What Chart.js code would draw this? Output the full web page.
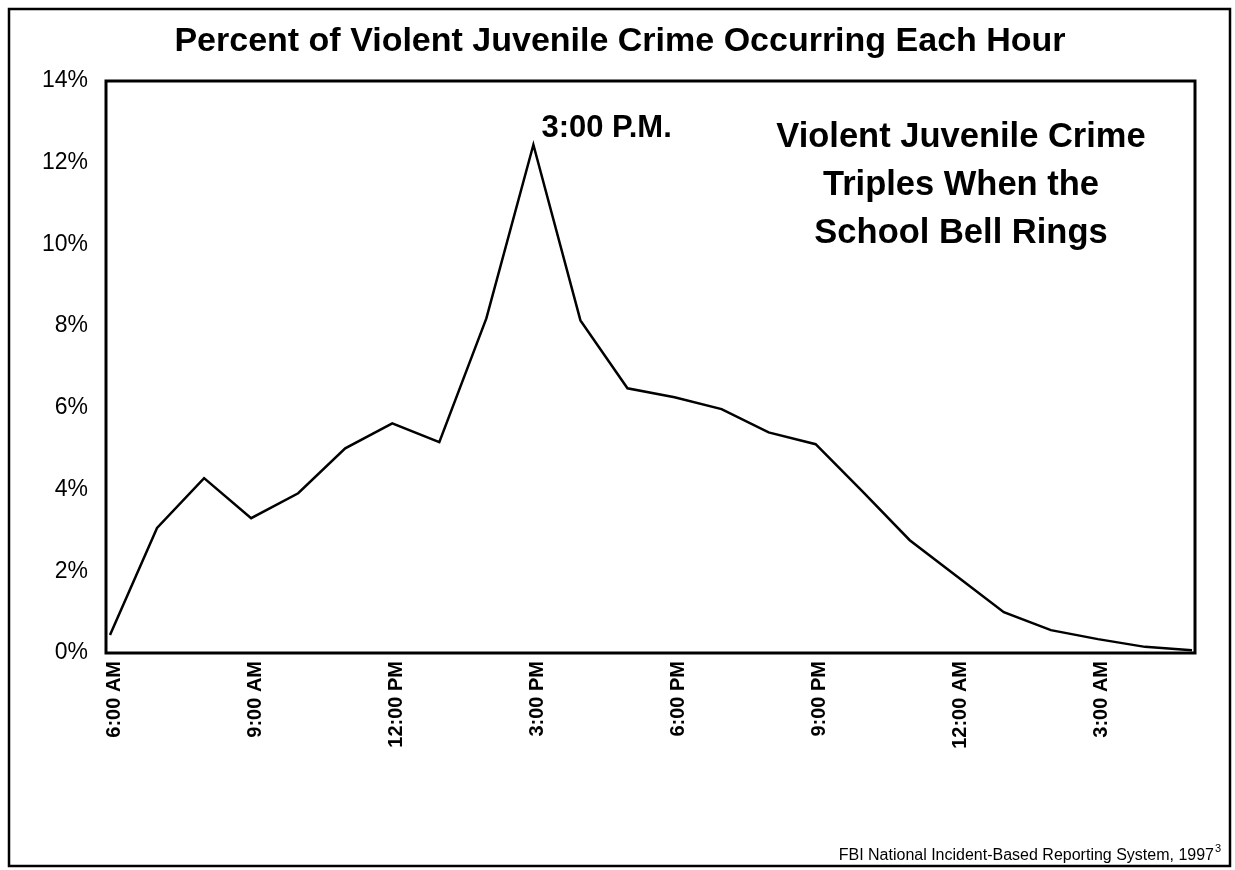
<!DOCTYPE html>
<html>
<head>
<meta charset="utf-8">
<title>Percent of Violent Juvenile Crime Occurring Each Hour</title>
<script src="https://cdn.jsdelivr.net/npm/chart.js@4.4.1/dist/chart.umd.min.js"></script>
<style>
  html, body { margin: 0; padding: 0; background: #fff; }
  canvas { display: block; }
</style>
</head>
<body>
<canvas id="crimeChart" width="1235" height="870"></canvas>
<script>
// hourly buckets, 6 AM through 5 AM the next morning
const hours = [
  "6:00 AM", "7:00 AM", "8:00 AM", "9:00 AM", "10:00 AM", "11:00 AM",
  "12:00 PM", "1:00 PM", "2:00 PM", "3:00 PM", "4:00 PM", "5:00 PM",
  "6:00 PM", "7:00 PM", "8:00 PM", "9:00 PM", "10:00 PM", "11:00 PM",
  "12:00 AM", "1:00 AM", "2:00 AM", "3:00 AM", "4:00 AM", "5:00 AM"
];
// percent of violent juvenile crime in each hour
const percentByHour = [
  0.44, 3.06, 4.28, 3.30, 3.91, 5.01,
  5.62, 5.16, 8.19, 12.44, 8.14, 6.48,
  6.26, 5.97, 5.40, 5.11, 3.95, 2.76,
  1.88, 1.00, 0.56, 0.34, 0.15, 0.07
];
const yTicks = [0, 2, 4, 6, 8, 10, 12, 14];
const labelEvery = 3;

const titleText = "Percent of Violent Juvenile Crime Occurring Each Hour";
const peakText = "3:00 P.M.";
const calloutLines = ["Violent Juvenile Crime", "Triples When the", "School Bell Rings"];
const sourceText = "FBI National Incident-Based Reporting System, 1997";

const FONT = '"Liberation Sans", Arial, Helvetica, sans-serif';

const decorPlugin = {
  id: "decor",
  afterDraw(chart) {
    const c = chart.ctx;
    const a = chart.chartArea;
    c.save();

    // outer page frame
    c.strokeStyle = "#000";
    c.lineWidth = 2.5;
    c.strokeRect(9, 9, 1221, 857);

    // plot frame (a few px outside the first/last point, as in the original)
    c.lineWidth = 3;
    c.strokeRect(a.left - 4, a.top, a.right - a.left + 7, a.bottom - a.top);

    c.fillStyle = "#000";
    c.textBaseline = "middle";

    // title
    c.textAlign = "center";
    c.font = "bold 34px " + FONT;
    c.fillText(titleText, 620, 42);

    // peak label, placed off the 3 PM point
    const xs = chart.scales.x;
    const peakIdx = percentByHour.indexOf(Math.max(...percentByHour));
    const px = xs.getPixelForValue(peakIdx);
    c.textAlign = "left";
    c.font = "bold 31px " + FONT;
    c.fillText(peakText, px + 8, 128);

    // callout
    c.textAlign = "center";
    c.font = "bold 34.5px " + FONT;
    calloutLines.forEach((line, i) => c.fillText(line, 961, 137 + i * 48));

    // source note
    c.textAlign = "right";
    c.font = "16px " + FONT;
    const supW = 8;
    c.fillText(sourceText, 1222 - supW, 856);
    c.font = "11px " + FONT;
    c.textAlign = "left";
    c.fillText("3", 1222 - supW + 1, 849);

    c.restore();
  }
};

new Chart(document.getElementById("crimeChart"), {
  type: "line",
  data: {
    labels: hours,
    datasets: [
      {
        label: "Percent",
        data: percentByHour,
        borderColor: "#000",
        borderWidth: 2.5,
        pointRadius: 0,
        tension: 0,
        fill: false
      }
    ]
  },
  options: {
    responsive: false,
    animation: false,
    layout: { padding: { top: 81, right: 43, left: 0, bottom: 0 } },
    plugins: {
      legend: { display: false },
      tooltip: { enabled: false },
      title: { display: false }
    },
    scales: {
      x: {
        type: "category",
        offset: false,
        grid: { display: false, drawTicks: false },
        border: { display: false },
        afterFit: (scale) => { scale.height = 217; },
        ticks: {
          autoSkip: false,
          maxRotation: 90,
          minRotation: 90,
          padding: 8,
          labelOffset: 4,
          color: "#000",
          font: { family: FONT, size: 20, weight: "bold" },
          callback: (val, i) => (i % labelEvery === 0 ? hours[i] : "")
        }
      },
      y: {
        min: yTicks[0],
        max: yTicks[yTicks.length - 1],
        grid: { display: false, drawTicks: false },
        border: { display: false },
        afterFit: (scale) => { scale.width = 110; },
        afterBuildTicks: (scale) => { scale.ticks = yTicks.map((v) => ({ value: v })); },
        ticks: {
          padding: 22,
          color: "#000",
          font: { family: FONT, size: 23 },
          callback: (v) => v + "%"
        }
      }
    }
  },
  plugins: [decorPlugin]
});
</script>
</body>
</html>
